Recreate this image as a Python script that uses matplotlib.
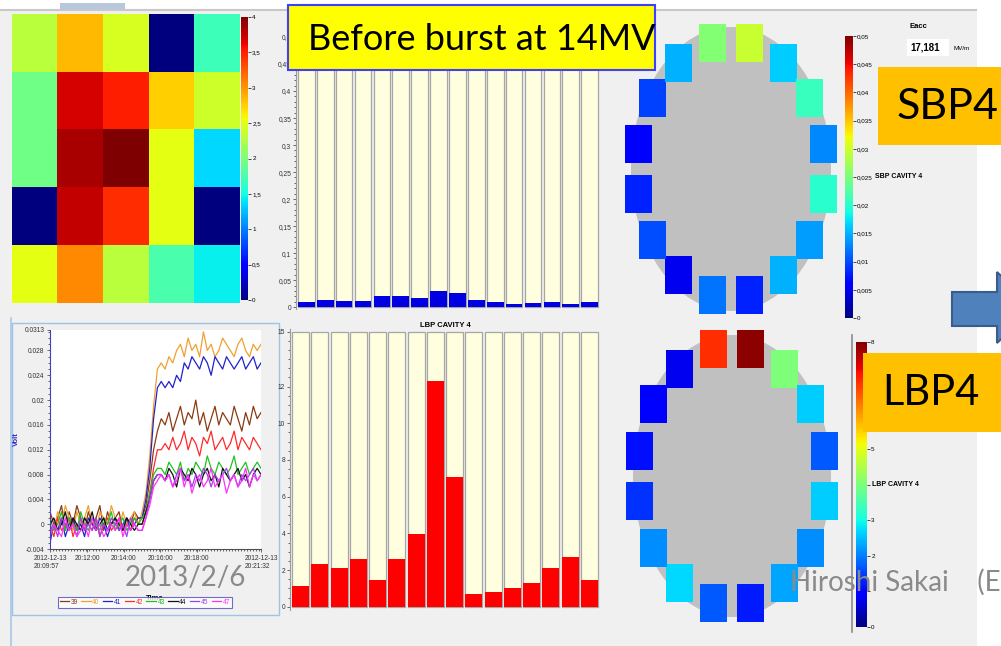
import numpy as np
import matplotlib.pyplot as plt
from matplotlib.patches import Rectangle, Ellipse, Polygon
from matplotlib.colors import Normalize
from matplotlib.cm import ScalarMappable
from matplotlib.ticker import FuncFormatter, MultipleLocator

plt.rcParams['font.family'] = ['Liberation Sans', 'DejaVu Sans']
SLIDE_FONT = ['Lato', 'DejaVu Sans']

# 5x5 sensor grid (colour scale 0..4)
heat_vals = [[2.30, 2.85, 2.45, 0.00, 1.70],
             [1.95, 3.70, 3.50, 2.75, 2.40],
             [1.95, 3.85, 4.00, 2.50, 1.35],
             [0.00, 3.75, 3.45, 2.50, 0.00],
             [2.50, 3.05, 2.30, 1.75, 1.45]]

# SBP / LBP cavity 4 channel bars
sbp_bars = [0.009, 0.013, 0.011, 0.011, 0.020, 0.021, 0.016, 0.029,
            0.026, 0.013, 0.009, 0.006, 0.008, 0.009, 0.006, 0.009]
lbp_bars = [1.14, 2.31, 2.11, 2.58, 1.45, 2.62, 3.94, 12.28,
            7.05, 0.69, 0.82, 1.04, 1.31, 2.13, 2.71, 1.45]

# ring sensors, clockwise starting at the top-left one
sbp_ring = [0.0255, 0.0295, 0.0163, 0.0210, 0.0130, 0.0200, 0.0140, 0.0150,
            0.0080, 0.0120, 0.0050, 0.0100, 0.0080, 0.0060, 0.0095, 0.0150]
lbp_ring = [6.9, 7.9, 4.0, 2.6, 1.7, 2.6, 2.1, 2.3,
            1.2, 1.7, 2.7, 2.1, 1.4, 1.1, 0.9, 0.8]

# pickup signals in mV, 2012-12-13 20:09:57 .. 20:21:32
t_sec = np.linspace(0, 695, 56)
v39 = [2, 0, 1, 3, -1, 2, 0, 3, 1, -1, 2, 0, 1, 3, -1, 2, 0, 1, 2, -1, 1, 0, 2, 1,
       1, 3, 7, 12, 15, 17,
       16, 18, 15, 17, 19, 16, 18, 17, 20, 16, 18, 15, 17, 19, 16, 18, 17, 16, 19, 17, 15, 18, 16, 19, 17, 18]
v40 = [1, -1, 2, 0, 3, 1, -1, 2, 0, 1, 3, 0, -1, 2, 1, 0, 3, 1, -1, 2, 0, 1, 2, 0,
       2, 5, 11, 19, 25, 26,
       25, 27, 26, 28, 29, 27, 30, 28, 29, 27, 31, 28, 29, 27, 28, 30, 29, 28, 27, 29, 30, 28, 27, 29, 28, 29]
v41 = [-3, 0, -1, 1, -2, 0, 1, -1, 0, -2, 1, 0, -1, 1, 0, -2, 0, 1, -1, 0, 1, -1, 0, 1,
       1, 4, 9, 17, 22, 23,
       22, 23, 22, 24, 23, 26, 25, 27, 26, 25, 27, 26, 24, 27, 26, 25, 27, 26, 25, 26, 27, 25, 26, 27, 25, 26]
v42 = [0, -2, 1, -1, 0, 1, -2, 0, -1, 1, 0, -1, 1, -2, 0, 1, -1, 0, 1, -1, 0, -1, 1, 0,
       0, 2, 5, 9, 12, 12,
       13, 12, 14, 12, 13, 15, 12, 14, 13, 11, 14, 13, 15, 12, 13, 14, 12, 13, 15, 12, 14, 13, 12, 14, 13, 12]
v43 = [1, -1, 0, 2, -1, 1, 0, -1, 2, 0, -1, 1, 0, -1, 1, 0, 2, -1, 0, 1, -1, 0, 1, 0,
       1, 2, 5, 8, 9, 9,
       8, 10, 9, 8, 10, 7, 9, 8, 10, 9, 8, 11, 9, 8, 10, 9, 8, 9, 11, 8, 9, 10, 8, 9, 10, 9]
v44 = [0, 1, -1, 0, 2, -1, 1, 0, -1, 1, 0, 2, -1, 0, 1, -1, 0, 1, 0, -1, 1, 0, -1, 0,
       0, 2, 4, 7, 8, 8,
       7, 9, 8, 6, 9, 8, 7, 9, 8, 6, 8, 9, 7, 8, 6, 9, 8, 7, 8, 9, 7, 8, 6, 8, 9, 8]
v45 = [-1, 0, -2, 1, 0, -1, 0, -2, 1, -1, 0, -1, 1, -2, 0, -1, 1, 0, -1, 0, -2, 1, 0, -1,
       -1, 1, 4, 7, 8, 8,
       7, 8, 6, 8, 9, 7, 8, 6, 8, 7, 9, 8, 6, 8, 7, 8, 9, 7, 8, 6, 8, 7, 8, 9, 7, 8]
v47 = [-2, 0, -1, -2, 1, -1, 0, -2, -1, 0, -2, 1, -1, 0, -2, -1, 0, -1, 1, -2, 0, -1, 0, -1,
       -1, 1, 3, 6, 7, 8,
       7, 8, 6, 7, 9, 6, 8, 5, 7, 8, 6, 7, 9, 6, 7, 8, 5, 7, 8, 6, 7, 9, 6, 8, 7, 8]
chan_labels = ['39', '40', '41', '42', '43', '44', '45', '47']
chan_colors = ['#8b3a12', '#f0a030', '#2323c8', '#ff2a2a', '#22c022', '#111111', '#a040e8', '#ff30ff']
traces = [v39, v40, v41, v42, v43, v44, v45, v47]

time_ticks = [0, 123, 243, 363, 483, 695]
time_labels = ['2012-12-13\n20:09:57', '20:12:00', '20:14:00', '20:16:00', '20:18:00', '2012-12-13\n20:21:32']
volt_ticks = [-0.004, 0, 0.004, 0.008, 0.012, 0.016, 0.02, 0.024, 0.028, 0.0313]


def comma(v, pos=None):
    s = ('%.3f' % v).rstrip('0').rstrip('.')
    return s.replace('.', ',')


W, H = 1001, 646
fig = plt.figure(figsize=(W / 100, H / 100), dpi=100)
fig.patch.set_facecolor('white')


def axes_px(x0, y0, x1, y1, z=1):
    a = fig.add_axes([x0 / W, 1 - y1 / H, (x1 - x0) / W, (y1 - y0) / H])
    a.set_zorder(z)
    return a


def small_cbar(cax, norm, ticks, fmt):
    cb = fig.colorbar(ScalarMappable(norm, 'jet'), cax=cax, ticks=ticks)
    cb.outline.set_visible(False)
    cax.tick_params(labelsize=4.5, length=2, width=0.5, pad=1)
    cax.yaxis.set_major_formatter(FuncFormatter(fmt))
    return cb


# screen background
bg = axes_px(0, 0, W, H, z=0)
bg.set_xlim(0, W)
bg.set_ylim(H, 0)
bg.axis('off')
bg.add_patch(Rectangle((0, 10), 977, 636, fc='#f0f0f0', ec='none'))
bg.plot([0, 977], [10, 10], color='#c8c8c8', lw=1.5)
bg.add_patch(Rectangle((60, 3), 65, 6, fc='#b8c8dc', ec='none'))
bg.plot([11, 11], [318, 646], color='#a9c6e6', lw=1.2)
bg.add_patch(Rectangle((12, 323), 267, 292, fc='none', ec='#9dc3e6', lw=1))

# heat map
ax_h = axes_px(12, 14, 240, 303)
ax_h.imshow(heat_vals, cmap='jet', vmin=0, vmax=4, aspect='auto', interpolation='nearest')
ax_h.axis('off')
small_cbar(axes_px(241, 17, 248, 300), Normalize(0, 4), np.arange(0, 4.01, 0.5), comma)

# time traces
ax_t = axes_px(50, 330, 261, 549)
ax_t.set_facecolor('white')
for lab, vals, col in zip(chan_labels, traces, chan_colors):
    ax_t.plot(t_sec, np.array(vals) / 1000, color=col, lw=0.9, label=lab)
ax_t.set_xlim(0, 695)
ax_t.set_ylim(-0.004, 0.0313)
ax_t.set_yticks(volt_ticks)
ax_t.set_yticklabels(['%g' % v for v in volt_ticks])
ax_t.set_xticks(time_ticks)
ax_t.set_xticklabels(time_labels, multialignment='left')
ax_t.xaxis.set_minor_locator(MultipleLocator(10))
ax_t.yaxis.set_minor_locator(MultipleLocator(0.001))
ax_t.tick_params(labelsize=4.8, length=2.5, width=0.5, pad=1.5, colors='#333333')
ax_t.tick_params(which='minor', length=1.5, width=0.4)
for s in ['top', 'right']:
    ax_t.spines[s].set_visible(False)
ax_t.spines['left'].set_color('#4040c0')
ax_t.spines['bottom'].set_color('#505050')
ax_t.set_ylabel('Volt', color='#3030c0', fontsize=5.5, fontweight='bold', labelpad=3)
bg.text(155, 598, 'Time', fontsize=5.5, fontweight='bold', ha='center', va='center')
leg = ax_t.legend(ncol=8, loc='center', bbox_to_anchor=(145 / W, 1 - 602 / H),
                  bbox_transform=fig.transFigure, fontsize=4.8, handlelength=1.4,
                  handletextpad=0.25, columnspacing=0.5, borderpad=0.3,
                  fancybox=False, labelcolor='linecolor')
leg.get_frame().set_edgecolor('#4a4ac0')
leg.get_frame().set_linewidth(0.8)

# bar charts
xs = np.arange(16)


def bar_panel(ax, vals, top, color):
    ax.set_facecolor('none')
    ax.bar(xs, np.full(16, top), width=0.88, color='#ffffe0', edgecolor='#a6a6a6', lw=0.9)
    ax.bar(xs, vals, width=0.88, color=color, edgecolor='none')
    ax.set_xlim(-0.55, 15.55)
    ax.set_xticks([])
    for s in ['top', 'right', 'bottom']:
        ax.spines[s].set_visible(False)
    ax.spines['left'].set_color('#9a9a9a')
    ax.tick_params(labelsize=4.8, length=2, width=0.5, pad=1.5, colors='#333333')
    ax.tick_params(which='minor', length=1.2, width=0.4)


ax_s = axes_px(296, 30, 600, 309)
bar_panel(ax_s, sbp_bars, 0.5, '#0000e0')
ax_s.set_ylim(-0.0035, 0.513)
ax_s.set_yticks(np.arange(0, 0.501, 0.05))
ax_s.yaxis.set_major_formatter(FuncFormatter(comma))
ax_s.yaxis.set_minor_locator(MultipleLocator(0.01))

ax_l = axes_px(290, 329, 600, 610)
bar_panel(ax_l, lbp_bars, 15, '#ff0000')
ax_l.set_ylim(-0.18, 15.14)
ax_l.set_yticks([0, 2, 4, 6, 8, 10, 12, 15])
ax_l.yaxis.set_minor_locator(MultipleLocator(0.5))
ax_l.set_title('LBP CAVITY 4', fontsize=5.5, fontweight='bold', pad=1)

# beam pipe rings
cmap = plt.get_cmap('jet')
ang = np.deg2rad(101.25 - 22.5 * np.arange(16))


def ring(cx, cy, ew, eh, rx, ry, vals, norm):
    bg.add_patch(Ellipse((cx, cy), ew, eh, fc='#c0c0c0', ec='none'))
    for a, v in zip(ang, vals):
        x = cx + rx * np.cos(a)
        y = cy - ry * np.sin(a)
        bg.add_patch(Rectangle((x - 13.5, y - 19), 27, 38, fc=cmap(norm(v)), ec='none'))


sbp_norm = Normalize(0, 0.05)
lbp_norm = Normalize(0, 8)
ring(731, 169, 200, 284, 94, 128, sbp_ring, sbp_norm)
ring(732, 476, 198, 282, 94, 129, lbp_ring, lbp_norm)

small_cbar(axes_px(845, 36, 853, 318), sbp_norm, np.arange(0, 0.0501, 0.005), comma)
bg.text(875, 177, 'SBP CAVITY 4', fontsize=5, fontweight='bold', va='center')
# the 1 and 4 marks carry no number: the legend text and the footer sit there
cb_l = small_cbar(axes_px(856, 342, 867, 627), lbp_norm, np.arange(0, 9),
                  lambda v, p: '' if v in (1, 4) else '%d' % v)
bg.plot([852, 852], [335, 632], color='#8c8c8c', lw=1.2)
bg.text(872, 485, 'LBP CAVITY 4', fontsize=5, fontweight='bold', va='center')

bg.text(910, 26, 'Eacc', fontsize=5.5, fontweight='bold', va='center')
bg.add_patch(Rectangle((907, 39), 42, 17, fc='white', ec='none'))
bg.text(910, 48, '17,181', fontsize=7, fontweight='bold', va='center')
bg.text(953, 49, 'MV/m', fontsize=4.5, va='center')

# slide annotations on top
ov = axes_px(0, 0, W, H, z=5)
ov.set_xlim(0, W)
ov.set_ylim(H, 0)
ov.axis('off')
ov.add_patch(Rectangle((977, 0), 24, H, fc='white', ec='none'))
ov.add_patch(Rectangle((288, 5), 367, 65, fc='#ffff00', ec='#3f3fff', lw=1.5))
ov.text(308, 39, 'Before burst at 14MV', family=SLIDE_FONT, fontsize=26, va='center')
ov.add_patch(Rectangle((878, 67), 130, 78, fc='#ffc000', ec='none'))
ov.text(897, 107, 'SBP4', family=SLIDE_FONT, fontsize=31, va='center')
ov.add_patch(Rectangle((863, 353), 140, 79, fc='#ffc000', ec='none'))
ov.text(882, 393, 'LBP4', family=SLIDE_FONT, fontsize=30, va='center')
ov.add_patch(Polygon([(952, 292), (997, 292), (997, 272), (1035, 308), (997, 343),
                      (997, 326), (952, 326)], closed=True, fc='#4f81bd', ec='#385d8a', lw=1.5))
ov.text(125, 578, '2013/2/6', family=SLIDE_FONT, fontsize=20, color='#8a8a8a', va='center')
ov.text(790, 582, 'Hiroshi Sakai    (E', family=SLIDE_FONT, fontsize=20, color='#8a8a8a', va='center')

fig.savefig('out.png', dpi=100)
